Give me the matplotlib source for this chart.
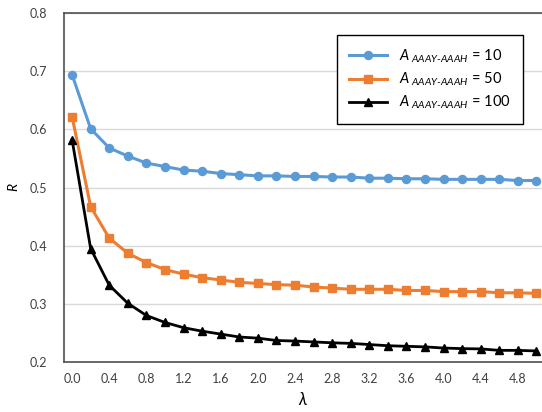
import matplotlib
matplotlib.use('Agg')
import matplotlib.pyplot as plt

plt.rcParams['font.family'] = ['Lato', 'DejaVu Sans']
plt.rcParams['mathtext.fontset'] = 'custom'
plt.rcParams['mathtext.it'] = 'Lato:italic'
plt.rcParams['mathtext.rm'] = 'Lato'

lam = [0.0, 0.2, 0.4, 0.6, 0.8, 1.0, 1.2, 1.4, 1.6, 1.8, 2.0, 2.2, 2.4,
       2.6, 2.8, 3.0, 3.2, 3.4, 3.6, 3.8, 4.0, 4.2, 4.4, 4.6, 4.8, 5.0]

r_10 = [0.694, 0.601, 0.568, 0.554, 0.542, 0.536, 0.530, 0.528, 0.524, 0.522,
        0.520, 0.520, 0.519, 0.519, 0.518, 0.518, 0.516, 0.516, 0.515, 0.515,
        0.514, 0.514, 0.514, 0.514, 0.512, 0.512]
r_50 = [0.622, 0.467, 0.413, 0.387, 0.371, 0.359, 0.351, 0.345, 0.341, 0.337,
        0.335, 0.333, 0.332, 0.329, 0.327, 0.325, 0.325, 0.325, 0.323, 0.323,
        0.321, 0.321, 0.321, 0.319, 0.319, 0.318]
r_100 = [0.582, 0.395, 0.332, 0.301, 0.280, 0.268, 0.259, 0.253, 0.248, 0.243,
         0.241, 0.237, 0.236, 0.2345, 0.233, 0.232, 0.230, 0.228, 0.227, 0.226,
         0.224, 0.223, 0.2225, 0.220, 0.220, 0.219]

series_labels = [r'$A_{\ AAAY\text{-}AAAH}$ = 10',
                 r'$A_{\ AAAY\text{-}AAAH}$ = 50',
                 r'$A_{\ AAAY\text{-}AAAH}$ = 100']

x_ticks = [0.0, 0.4, 0.8, 1.2, 1.6, 2.0, 2.4, 2.8, 3.2, 3.6, 4.0, 4.4, 4.8]
x_ticklabels = ['0.0', '0.4', '0.8', '1.2', '1.6', '2.0', '2.4', '2.8', '3.2',
                '3.6', '4.0', '4.4', '4.8']
y_ticks = [0.2, 0.3, 0.4, 0.5, 0.6, 0.7, 0.8]
y_ticklabels = ['0.2', '0.3', '0.4', '0.5', '0.6', '0.7', '0.8']

W, H = 542, 412
fig = plt.figure(figsize=(W / 100, H / 100), dpi=100)
ax = fig.add_axes([64 / W, 1 - 362 / H, 1 - 64 / W, (362 - 13) / H])

ax.plot(lam, r_10, color='#5B9BD5', lw=2.2, marker='o', ms=5.8, label=series_labels[0], zorder=3)
ax.plot(lam, r_50, color='#ED7D31', lw=2.2, marker='s', ms=5.5, label=series_labels[1], zorder=3)
ax.plot(lam, r_100, color='black', lw=2.0, marker='^', ms=5.8, label=series_labels[2], zorder=3)

ax.set_xlim(-0.087, 5.06)
ax.set_ylim(0.2, 0.8)
ax.set_xticks(x_ticks)
ax.set_xticklabels(x_ticklabels)
ax.set_yticks(y_ticks)
ax.set_yticklabels(y_ticklabels)
ax.tick_params(axis='both', length=0, labelsize=9, labelcolor='#404040')
ax.tick_params(axis='y', pad=12)
ax.tick_params(axis='x', pad=8)
ax.grid(axis='y', color='#D9D9D9', lw=1)
ax.set_axisbelow(True)

for s in ['left', 'bottom', 'top']:
    ax.spines[s].set_color('#505050')
    ax.spines[s].set_linewidth(1.2)
ax.spines['right'].set_visible(False)

ax.set_xlabel(r'$\lambda$', fontsize=12, labelpad=4)
ax.set_ylabel(r'$R$', fontsize=10)
ax.yaxis.set_label_coords(-0.092, 0.5)

leg = ax.legend(loc='upper right', bbox_to_anchor=(523 / W, 1 - 35 / H),
                bbox_transform=fig.transFigure, fancybox=False, framealpha=1,
                edgecolor='black', fontsize=10.5, handlelength=2.6,
                handletextpad=0.8, borderpad=0.85, labelspacing=0.4,
                borderaxespad=0)
leg.get_frame().set_linewidth(1.0)

fig.savefig('out.png', dpi=100)
